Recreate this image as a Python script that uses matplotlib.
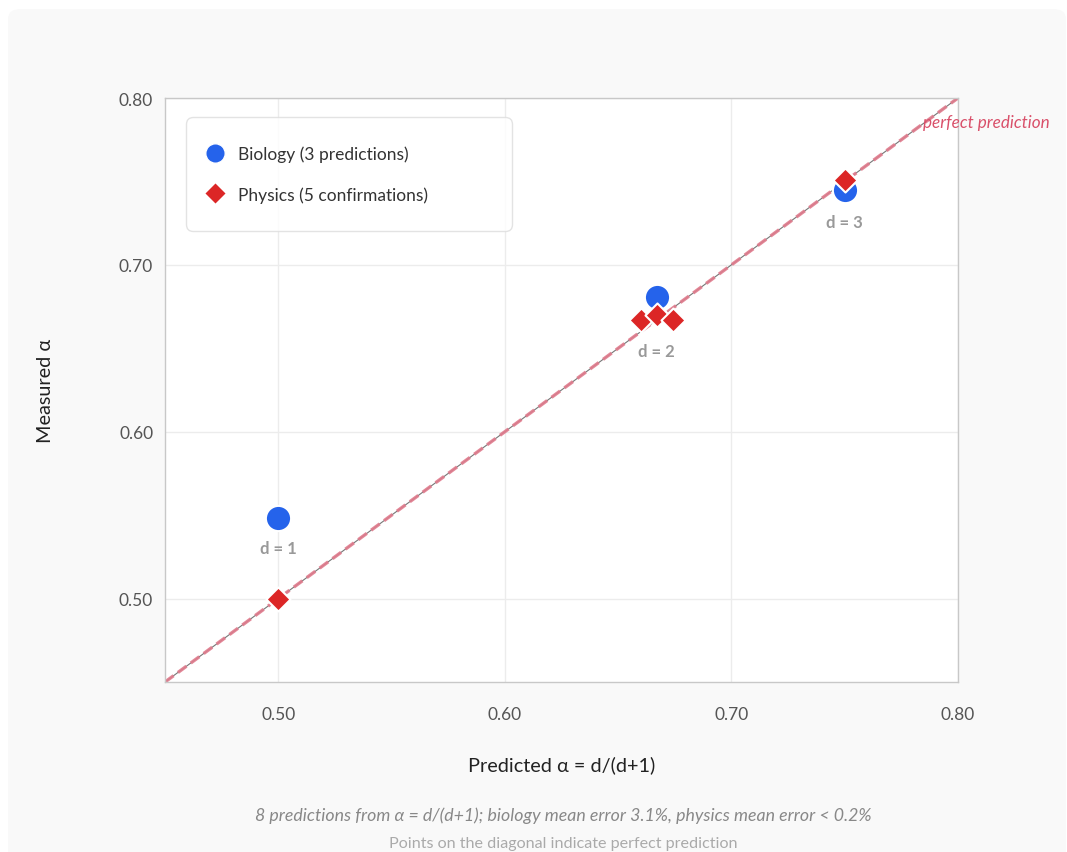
import matplotlib
matplotlib.use("Agg")
import matplotlib.pyplot as plt
from matplotlib.patches import FancyBboxPatch
from matplotlib.lines import Line2D

plt.rcParams['font.family'] = ['Lato', 'DejaVu Sans']

bio_pred = [0.500, 0.667, 0.750]
bio_meas = [0.548, 0.681, 0.745]
bio_labels = ["d = 1", "d = 2", "d = 3"]
phys_pred = [0.500, 0.660, 0.667, 0.674, 0.750]
phys_meas = [0.500, 0.667, 0.670, 0.667, 0.751]
ticks = [0.50, 0.60, 0.70, 0.80]
tick_labels = ["0.50", "0.60", "0.70", "0.80"]

W, H = 1067, 853
fig = plt.figure(figsize=(W/100, H/100), dpi=100)
fig.patch.set_facecolor('white')
card = FancyBboxPatch((8/W, -0.02), (W-8-1)/W, (H-10)/H + 0.02,
                      boxstyle="round,pad=0,rounding_size=0.012",
                      transform=fig.transFigure, facecolor='#f9f9f9',
                      edgecolor='none', zorder=-10)
fig.patches.append(card)

ax = fig.add_axes([165/W, 1-683/H, (958-165)/W, (683-99)/H])
ax.set_zorder(1)
ax.set_facecolor('white')
ax.set_xlim(0.45, 0.80)
ax.set_ylim(0.45, 0.80)
ax.set_xticks(ticks)
ax.set_xticklabels(tick_labels)
ax.set_yticks(ticks)
ax.set_yticklabels(tick_labels)
ax.tick_params(length=0, labelsize=12.5, colors='#555555')
ax.tick_params(axis='x', pad=17.5)
ax.tick_params(axis='y', pad=8.5)
ax.grid(True, color='#ececec', linewidth=1)
ax.set_axisbelow(True)
for s in ax.spines.values():
    s.set_color('#c8c8c8')
    s.set_linewidth(1)

# diagonal
ax.plot([0.45, 0.80], [0.45, 0.80], color='#777777', linewidth=0.8, zorder=2)
ax.plot([0.45, 0.80], [0.45, 0.80], color='#e07a8c', linewidth=2.4,
        dashes=(3.2, 1.6), alpha=0.9, zorder=2)
ax.text(0.7845, 0.7856, "perfect prediction", color='#d9506a', fontsize=12.3,
        style='italic', ha='left', va='center', clip_on=False, zorder=5)

ax.scatter(bio_pred, bio_meas, s=330, color='#2563eb', edgecolors='white',
           linewidths=1.5, zorder=3, label='Biology (3 predictions)')
ax.scatter(phys_pred, phys_meas, s=150, marker='D', color='#dc2626',
           edgecolors='white', linewidths=1.5, zorder=4,
           label='Physics (5 confirmations)')

label_offsets = [-21, -39, -23]
for x, y, t, off in zip(bio_pred, bio_meas, bio_labels, label_offsets):
    ax.annotate(t, (x, y), xytext=(0, off), textcoords='offset points',
                ha='center', va='center', fontsize=12, color='#999999',
                fontweight='bold', zorder=5)

ax.set_xlabel("Predicted α = d/(d+1)", fontsize=14.3, color='#222222', labelpad=24)
ax.set_ylabel("Measured α", fontsize=14.3, color='#222222', labelpad=47)

handles = [
    Line2D([], [], marker='o', linestyle='none', markersize=14,
           markerfacecolor='#2563eb', markeredgecolor='white'),
    Line2D([], [], marker='D', linestyle='none', markersize=11,
           markerfacecolor='#dc2626', markeredgecolor='white'),
]
leg = ax.legend(handles, ['Biology (3 predictions)', 'Physics (5 confirmations)'],
                loc='upper left', bbox_to_anchor=(0.0265, 0.9675, 0.411, 0.0),
                mode='expand', fontsize=12.5, frameon=True, borderpad=1.65,
                labelspacing=1.37, handlelength=0.05, handletextpad=1.27,
                borderaxespad=0)
leg.get_frame().set_edgecolor('#dddddd')
leg.get_frame().set_linewidth(1)
leg.get_frame().set_boxstyle('round,pad=0,rounding_size=0.4')
for t in leg.get_texts():
    t.set_color('#333333')
leg.set_zorder(10)

fig.text(563/W, 1-816/H,
         "8 predictions from α = d/(d+1); biology mean error 3.1%, physics mean error < 0.2%",
         ha='center', va='center', fontsize=12.8, color='#888888', style='italic')
fig.text(563/W, 1-844/H, "Points on the diagonal indicate perfect prediction",
         ha='center', va='center', fontsize=11.6, color='#aaaaaa')

fig.savefig("out.png", dpi=100, facecolor=fig.get_facecolor())
